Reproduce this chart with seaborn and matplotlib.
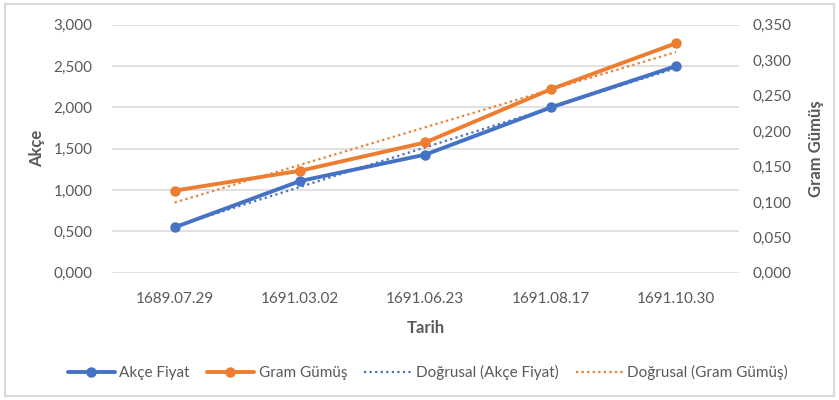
import matplotlib
matplotlib.use("Agg")
import matplotlib.pyplot as plt
import matplotlib.patches as mpatches
from matplotlib.ticker import FuncFormatter
import numpy as np
import pandas as pd
import seaborn as sns

# Data
dates = ["1689.07.29", "1691.03.02", "1691.06.23", "1691.08.17", "1691.10.30"]
akce_fiyat = [0.55, 1.11, 1.43, 2.00, 2.50]
gram_gumus = [0.116, 0.144, 0.184, 0.259, 0.324]

BLUE = "#4472C4"
ORANGE = "#ED7D31"
TEXT = "#595959"
GRID = "#D9D9D9"

df = pd.DataFrame({
    "pos": np.arange(len(dates)),
    "Tarih": dates,
    "Akçe Fiyat": akce_fiyat,
    "Gram Gümüş": gram_gumus,
})

sns.set_theme(style="white")
plt.rcParams["font.family"] = ["Lato", "DejaVu Sans"]

fig = plt.figure(figsize=(8.39, 4.0), dpi=100)
ax = fig.add_axes([0.1335, 0.318, 0.747, 0.62])
ax2 = ax.twinx()

# main series
sns.lineplot(data=df, x="pos", y="Akçe Fiyat", ax=ax, color=BLUE, lw=2.8,
             marker="o", markersize=7.5, markeredgewidth=0, label="Akçe Fiyat",
             legend=False)
sns.lineplot(data=df, x="pos", y="Gram Gümüş", ax=ax2, color=ORANGE, lw=2.8,
             marker="o", markersize=7.5, markeredgewidth=0, label="Gram Gümüş",
             legend=False)

# linear trend lines
sns.regplot(data=df, x="pos", y="Akçe Fiyat", ax=ax, scatter=False, ci=None,
            color=BLUE, line_kws={"ls": (0, (1, 1.5)), "lw": 1.6},
            label="Doğrusal (Akçe Fiyat)")
sns.regplot(data=df, x="pos", y="Gram Gümüş", ax=ax2, scatter=False, ci=None,
            color=ORANGE, line_kws={"ls": (0, (1, 1.5)), "lw": 1.6},
            label="Doğrusal (Gram Gümüş)")

ax.set_xlim(-0.5, len(dates) - 0.5)
ax.set_ylim(0, 3.0)
ax2.set_ylim(0, 0.35)
ax.set_yticks(np.arange(0, 3.01, 0.5))
ax2.set_yticks(np.arange(0, 0.351, 0.05))
ax.set_xticks(df["pos"])
ax.set_xticklabels(dates)

fmt = lambda v, _: f"{v:,.3f}".replace(".", ",")
ax.yaxis.set_major_formatter(FuncFormatter(fmt))
ax2.yaxis.set_major_formatter(FuncFormatter(fmt))

ax.grid(axis="y", color=GRID, lw=1.1)
ax.set_axisbelow(True)
for a in (ax, ax2):
    for s in a.spines.values():
        s.set_visible(False)
    a.tick_params(length=0, labelsize=11, colors=TEXT)
ax.tick_params(axis="y", pad=14)
ax2.tick_params(axis="y", pad=10)
ax.tick_params(axis="x", pad=14)

ax.set_xlabel("Tarih", fontsize=12, fontweight="bold", color=TEXT, labelpad=10)
ax.set_ylabel("Akçe", fontsize=12, fontweight="bold", color=TEXT, labelpad=6)
ax2.set_ylabel("Gram Gümüş", fontsize=12, fontweight="bold", color=TEXT, labelpad=12)

h1, l1 = ax.get_legend_handles_labels()
h2, l2 = ax2.get_legend_handles_labels()
handles = [h1[0], h2[0], h1[1], h2[1]]
labels = [l1[0], l2[0], l1[1], l2[1]]
fig.legend(handles, labels, loc="center", bbox_to_anchor=(0.51, 0.068), ncol=4,
           frameon=False, fontsize=11, labelcolor=TEXT, handlelength=3.1,
           handletextpad=0.3, columnspacing=1.1)

# outer chart border like the Excel chart area
fig.patches.append(mpatches.Rectangle((0.006, 0.01), 0.988, 0.98,
                                      transform=fig.transFigure, fill=False,
                                      edgecolor=GRID, lw=1.5))

fig.savefig("out.png", dpi=100)
plt.close(fig)
